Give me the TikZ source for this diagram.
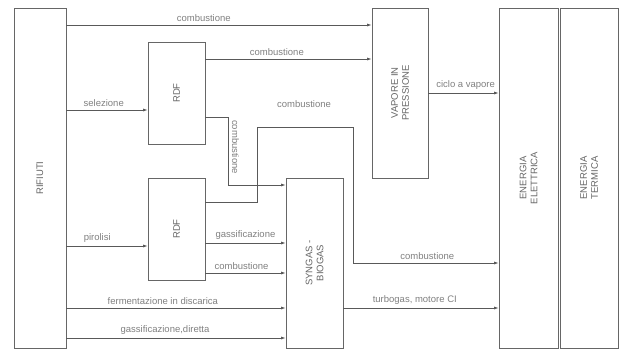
\documentclass[tikz,border=0pt]{standalone}
\usepackage{fontspec}
\setmainfont{Liberation Sans}
\usetikzlibrary{arrows.meta}

\begin{document}
\begin{tikzpicture}[
	x=1pt, y=-1pt,
	font=\fontsize{9.5}{11}\selectfont,
	blocco/.style={draw=black!60, line width=0.7pt, fill=white, inner sep=0pt},
	testoblocco/.style={rotate=90, align=center, text=black!60},
	flusso/.style={draw=black!65, line width=0.7pt, -{Latex[length=4.5pt,width=3pt]}},
	etichetta/.style={text=black!50, inner sep=1pt, above=2pt}
	]
	
	% Margini
	\useasboundingbox (0,0) rectangle (626,349);
	
	% Blocchi
	\node[blocco, minimum width=52, minimum height=340] (rifiuti) at (40,178) {};
	\node[blocco, minimum width=57, minimum height=102] (rdfa) at (176.5,93) {};
	\node[blocco, minimum width=57, minimum height=102] (rdfb) at (176.5,229) {};
	\node[blocco, minimum width=57, minimum height=170] (syngas) at (314.5,263) {};
	\node[blocco, minimum width=56, minimum height=170] (vapore) at (400,93) {};
	\node[blocco, minimum width=59, minimum height=340] (elettrica) at (528.5,178) {};
	\node[blocco, minimum width=58, minimum height=340] (termica) at (589,178) {};
	
	% Testi dei blocchi
	\node[testoblocco] at (rifiuti.center) {RIFIUTI};
	\node[testoblocco] at (rdfa.center) {RDF};
	\node[testoblocco] at (rdfb.center) {RDF};
	\node[testoblocco] at (syngas.center) {SYNGAS -\\BIOGAS};
	\node[testoblocco] at (vapore.center) {VAPORE IN\\PRESSIONE};
	\node[testoblocco] at (elettrica.center) {ENERGIA\\ELETTRICA};
	\node[testoblocco] at (termica.center) {ENERGIA\\TERMICA};
	
	% Verso il vapore in pressione
	\draw[flusso] (rifiuti.east |- 0,25) -- (vapore.west |- 0,25)
	node[etichetta, pos=0.45] {combustione};
	\draw[flusso] (rdfa.east |- 0,59) -- (vapore.west |- 0,59)
	node[etichetta, pos=0.43] {combustione};
	\draw[flusso] (vapore.east |- 0,93) -- (elettrica.west |- 0,93)
	node[etichetta, pos=0.53] {ciclo a vapore};
	
	% Verso gli RDF
	\draw[flusso] (rifiuti.east |- 0,110) -- (rdfa.west |- 0,110)
	node[etichetta, pos=0.46] {selezione};
	\draw[flusso] (rifiuti.east |- 0,246) -- (rdfb.west |- 0,246)
	node[etichetta, pos=0.38] {pirolisi};
	
	% Percorsi spezzati
	\draw[flusso] (rdfa.east |- 0,117) -- (228,117) -- (228,185)
	-- (syngas.west |- 0,185);
	\node[rotate=-90, text=black!50, inner sep=1pt] (etvert) at (235.5,147) {combustione};
	\draw[flusso] (rdfb.east |- 0,202) -- (257,202) -- (257,127) -- (353,127)
	-- (353,263) -- (elettrica.west |- 0,263)
	node[etichetta, pos=0.51] {combustione};
	\node[text=black!50, inner sep=1pt] (etcomb) at (304,104) {combustione};
	
	% Verso syngas - biogas
	\draw[flusso] (rdfb.east |- 0,243) -- (syngas.west |- 0,243)
	node[etichetta, pos=0.5] {gassificazione};
	\draw[flusso] (rdfb.east |- 0,273) -- (syngas.west |- 0,273)
	node[etichetta, pos=0.45] {combustione};
	\draw[flusso] (rifiuti.east |- 0,308) -- (syngas.west |- 0,308)
	node[etichetta, pos=0.44] {fermentazione in discarica};
	\draw[flusso] (rifiuti.east |- 0,338) -- (syngas.west |- 0,338)
	node[etichetta, pos=0.45] {gassificazione,diretta};
	
	% Verso energia elettrica
	\draw[flusso] (syngas.east |- 0,308) -- (elettrica.west |- 0,308)
	node[etichetta, pos=0.46] {turbogas, motore CI};
	
\end{tikzpicture}
\end{document}
